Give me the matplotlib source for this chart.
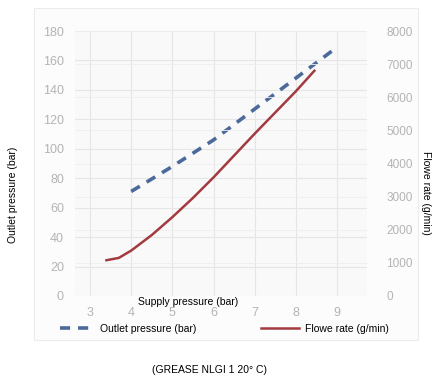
import matplotlib
matplotlib.use('Agg')
import matplotlib.pyplot as plt
from matplotlib.patches import Rectangle
from matplotlib.lines import Line2D

plt.rcParams['font.family'] = ['Liberation Sans', 'DejaVu Sans']

# outlet pressure (bar) vs supply pressure (bar)
supply_outlet = [4, 5, 6, 7, 8, 9]
outlet_bar = [71, 88, 106, 127, 148, 169]

# flow rate (g/min) vs supply pressure (bar)
supply_flow = [3.4, 3.7, 4.0, 4.5, 5.0, 5.5, 6.0, 7.0, 8.0, 8.45]
flow_gmin = [1080, 1150, 1370, 1840, 2380, 2960, 3580, 4900, 6180, 6800]

x_ticks = [3, 4, 5, 6, 7, 8, 9]
left_ticks = list(range(0, 181, 20))
right_ticks = list(range(0, 8001, 1000))

blue = '#4b6a9b'
red = '#a33a40'
tick_grey = '#b4b4b4'
grid_grey = '#e6e6e6'

fig = plt.figure(figsize=(4.32, 3.77), dpi=100)
fig.patch.set_facecolor('white')

# faint outer chart panel
fig.patches.append(Rectangle((34 / 432, 1 - 340 / 377), (418 - 34) / 432, (340 - 8) / 377,
                             transform=fig.transFigure, facecolor='#fcfcfc',
                             edgecolor='#ececec', lw=0.8, zorder=-5))

ax = fig.add_axes([75 / 432, 1 - 296 / 377, (367 - 75) / 432, (296 - 31) / 377])
ax.set_facecolor('#f9f9f9')
ax2 = ax.twinx()

ax.plot(supply_outlet, outlet_bar, color=blue, lw=2.6, dashes=(2.8, 2.2), zorder=3)
ax2.plot(supply_flow, flow_gmin, color=red, lw=1.8, zorder=3)

ax.set_xlim(2.636, 9.728)
ax.set_ylim(0, 180)
ax2.set_ylim(0, 8000)
ax.set_xticks(x_ticks)
ax.set_yticks(left_ticks)
ax2.set_yticks(right_ticks)

ax.grid(True, color=grid_grey, lw=0.8)
ax2.yaxis.grid(True, color='#eeeeee', lw=0.6)
ax.set_axisbelow(True)
ax2.set_axisbelow(True)

for a in (ax, ax2):
    for s in a.spines.values():
        s.set_visible(False)
    a.tick_params(length=0, labelsize=9, colors=tick_grey)
ax.tick_params(axis='x', pad=8)
ax.tick_params(axis='y', pad=8)
ax2.tick_params(axis='y', pad=14, labelsize=8.5)

fig.text(188 / 432, 1 - 302 / 377, 'Supply pressure (bar)', ha='center', va='center', fontsize=7.5)
fig.text(13 / 432, 1 - 195 / 377, 'Outlet pressure (bar)', ha='center', va='center',
         rotation=90, fontsize=7.5)
fig.text(426 / 432, 1 - 193 / 377, 'Flowe rate (g/min)', ha='center', va='center',
         rotation=-90, fontsize=7.5)
fig.text(210 / 432, 1 - 370 / 377, '(GREASE NLGI 1 20° C)', ha='center', va='center', fontsize=7.5)

h1 = Line2D([], [], color=blue, lw=2.6, dashes=(2.8, 2.2))
h2 = Line2D([], [], color=red, lw=1.8)
fig.legend([h1], ['Outlet pressure (bar)'], loc='center left', bbox_to_anchor=(55 / 432, 1 - 329 / 377),
           frameon=False, fontsize=7.5, handlelength=3.2, handletextpad=0.6, borderpad=0)
fig.legend([h2], ['Flowe rate (g/min)'], loc='center left', bbox_to_anchor=(256 / 432, 1 - 329 / 377),
           frameon=False, fontsize=7.5, handlelength=3.6, handletextpad=0.6, borderpad=0)

fig.savefig('out.png', dpi=100)
